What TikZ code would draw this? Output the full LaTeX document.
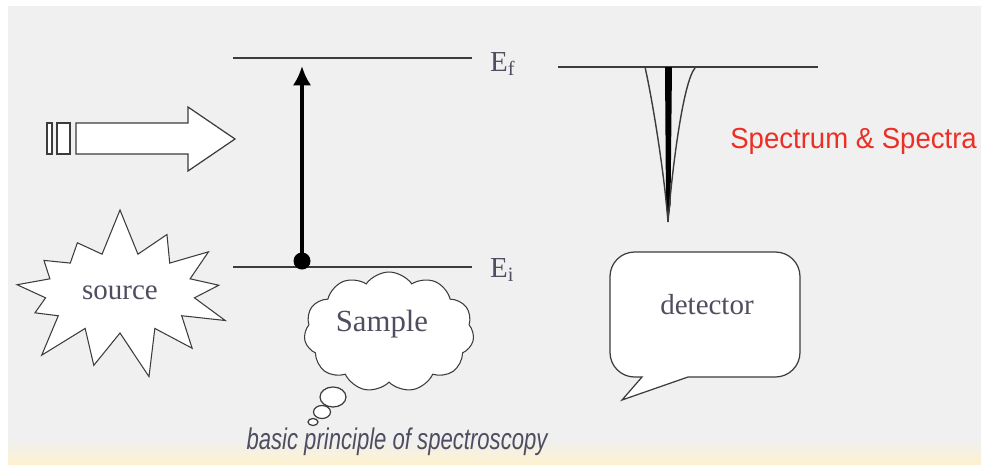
\documentclass[tikz,border=0pt]{standalone}
\usepackage{fontspec}
\setmainfont{Liberation Serif}
\setsansfont{Liberation Sans}
\usepackage{graphicx}
\usepackage{tikz}
\usetikzlibrary{positioning,calc,shapes.symbols,arrows.meta}
\usepackage{xcolor}
\definecolor{panelgray}{RGB}{240,240,241}
\definecolor{stripyellow}{RGB}{253,241,206}
\definecolor{inkgray}{RGB}{78,78,96}
\definecolor{linegray}{RGB}{60,60,60}
\definecolor{spectred}{RGB}{236,46,36}

\begin{document}
\begin{tikzpicture}[x=0.02cm, y=-0.02cm,
    label/.style={font=\fontsize{16.5}{18}\selectfont, text=inkgray},
    level/.style={line width=1.2pt, linegray},
    outline/.style={draw=linegray, line width=0.7pt, fill=white}
]

\useasboundingbox (0,0) rectangle (981,464);
\fill[white] (0,0) rectangle (981,464);
\fill[panelgray] (8,6) rectangle (981,440);
\shade[top color=panelgray, bottom color=stripyellow] (8,440) rectangle (981,464);

% energy levels of the sample
\coordinate (fleft) at (233,58);
\coordinate (fright) at (472,58);
\coordinate (ileft) at (233,267);
\coordinate (iright) at (472,267);
\draw[level] (fleft) -- (fright);
\draw[level] (ileft) -- (iright);
\node[label, anchor=west] (ef) at (484,64) {E\textsubscript{f}};
\node[label, anchor=west] (ei) at (484,270) {E\textsubscript{i}};

\coordinate (ground) at (302,261);
\coordinate (excited) at (302,66);
\fill[black] (ground) circle (8.5);
\draw[line width=2.2pt, -{Latex[length=11pt,width=10.5pt]}] (ground) -- (excited);

% incoming light
\draw[outline] (76,123) -- (188,123) -- (188,107) -- (235,139) -- (188,171) -- (188,154) -- (76,154) -- cycle;
\draw[outline] (47,123) rectangle (52,154);
\draw[outline] (57,123) rectangle (70,154);

% source, sample, detector
\node[label, starburst, starburst points=13, starburst point height=0.95cm,
      random starburst=7, draw=linegray, line width=0.6pt, fill=white,
      minimum width=4.9cm, minimum height=3.5cm] (source) at (120,293) {source};

\draw[outline] (333,397) ellipse (13 and 10);
\draw[outline] (322,412) ellipse (8.5 and 6.5);
\draw[outline] (313,422) ellipse (5 and 3.5);
\node[label, cloud, cloud puffs=11, cloud puff arc=110, draw=linegray,
      line width=0.6pt, fill=white, minimum width=3.4cm, minimum height=2.4cm,
      inner sep=0pt] (sample) at (389,332) {};
\node[label, font=\fontsize{17.5}{19}\selectfont] (sampletext) at (382,324) {Sample};

\draw[outline] (642,377) -- (622,400) -- (688,377) [rounded corners=14pt] -- (800,377)
    -- (800,252) -- (610,252) -- (610,377) [sharp corners] -- cycle;
\node[label] (detector) at (707,305) {detector};

% spectrum
\coordinate (sleft) at (558,67);
\coordinate (sright) at (818,67);
\draw[line width=1pt, linegray] (sleft) -- (sright);
\coordinate (peak) at (668,222);
\fill[black] (665,67) -- (672,67) -- (670.5,205) -- (peak) -- (666,205) -- cycle;
\draw[line width=0.8pt, linegray] (645,67) .. controls (652,98) and (664,170) .. (peak);
\draw[line width=0.8pt, linegray] (695,68) .. controls (683,82) and (672,170) .. (peak);

\node[font=\sffamily\fontsize{16.5}{18}\selectfont, text=spectred, anchor=west, inner sep=0pt] (spectra) at (730,141)
    {\scalebox{0.95}[1]{Spectrum \& Spectra}};

\node[font=\sffamily\itshape\fontsize{17}{19}\selectfont, text=inkgray] (caption) at (397,442)
    {\scalebox{0.74}[1]{basic principle of spectroscopy}};

\end{tikzpicture}
\end{document}
